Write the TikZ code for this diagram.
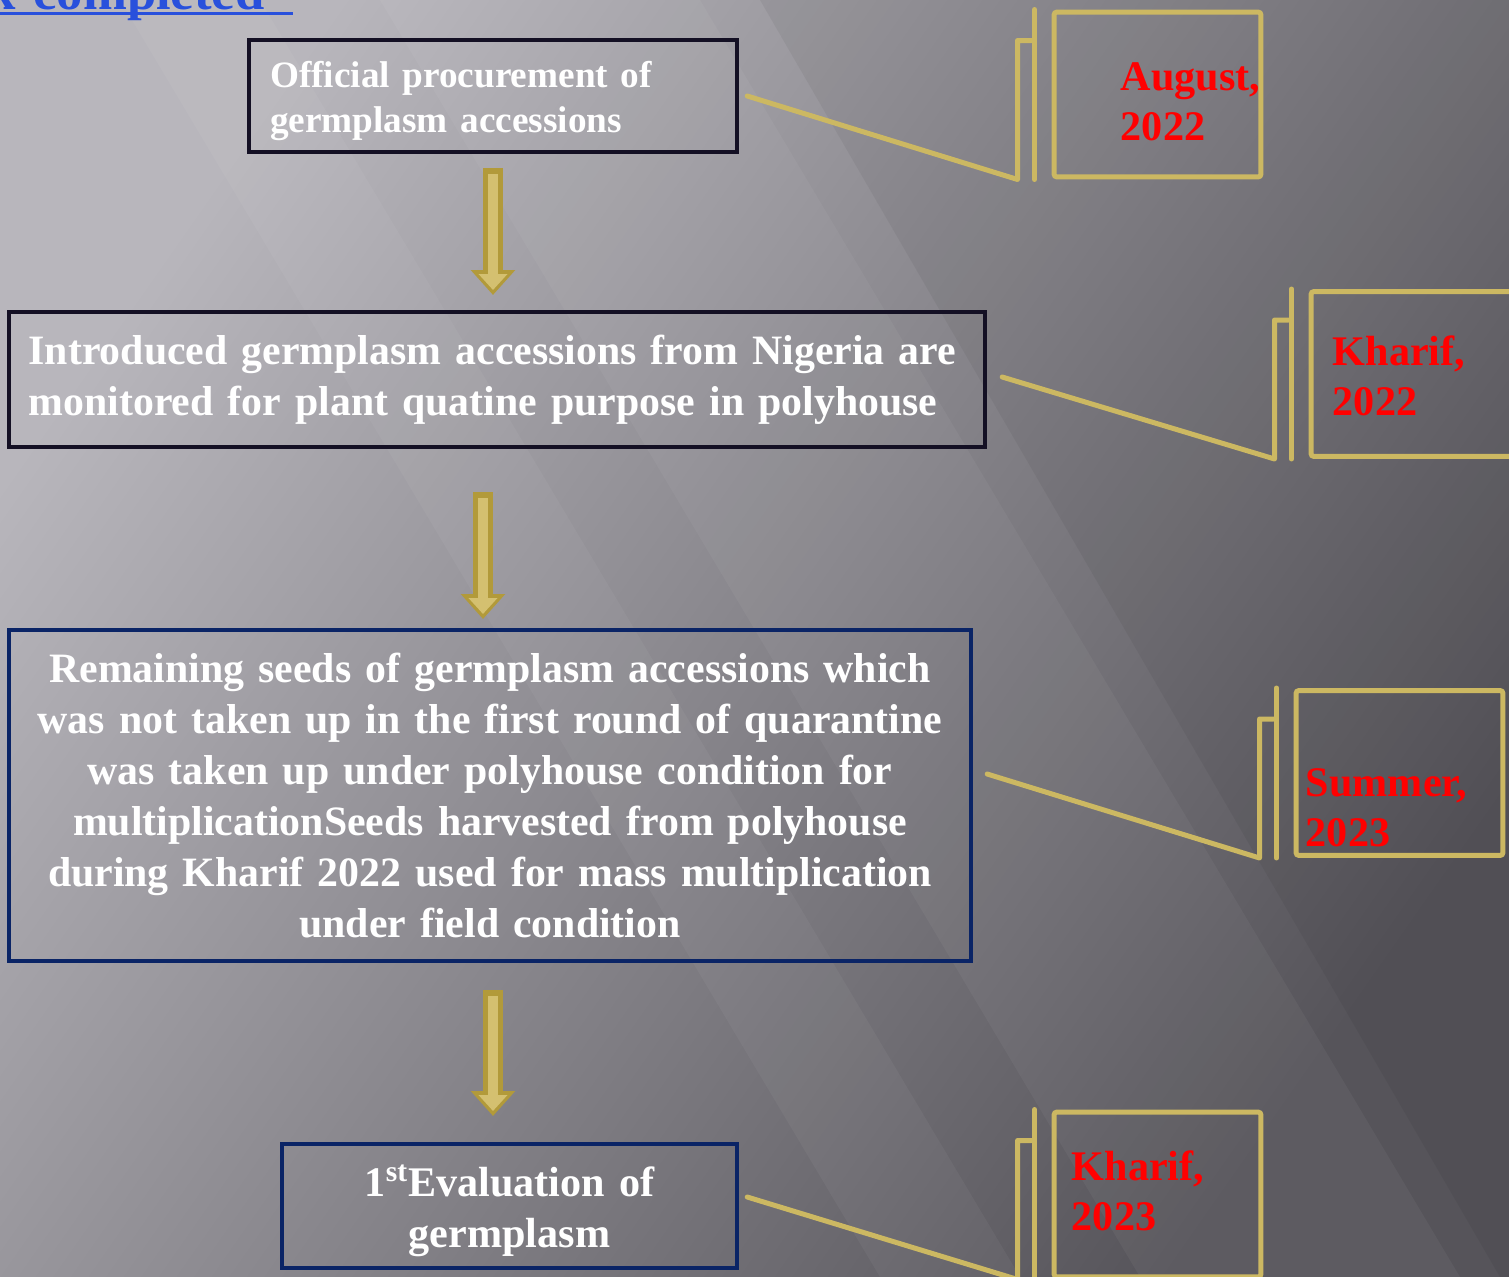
\documentclass[tikz,border=0pt]{standalone}
\usepackage{fontspec}
\setmainfont{Liberation Serif}[WordSpace=1.35]
\usetikzlibrary{arrows.meta,positioning}

\definecolor{bglight}{RGB}{184,182,188}
\definecolor{bgmid}{RGB}{132,130,137}
\definecolor{bgdark}{RGB}{86,84,90}
\definecolor{goldline}{RGB}{204,184,98}
\definecolor{golddark}{RGB}{178,154,58}
\definecolor{goldlight}{RGB}{212,192,112}
\definecolor{inkbox}{RGB}{20,16,36}
\definecolor{navybox}{RGB}{10,36,102}
\definecolor{linkblue}{RGB}{40,80,220}
\definecolor{datered}{RGB}{255,0,0}

\tikzset{
  stepbox/.style={draw=inkbox, line width=0.09cm, text=white, inner ysep=0pt,
    font=\bfseries\fontsize{23.8}{29}\selectfont},
  navystep/.style={stepbox, draw=navybox},
  datebox/.style={draw=goldline, line width=0.1cm, rounded corners=0.06cm,
    minimum width=4.14cm, minimum height=3.3cm, inner sep=0pt},
  datetext/.style={text=datered, align=flush left, inner sep=0pt,
    font=\bfseries\fontsize{24}{28.5}\selectfont},
  callout/.style={draw=goldline, line width=0.1cm, line cap=round, line join=round},
  flowout/.style={draw=golddark, line width=0.4cm, -{Triangle[width=0.86cm,length=0.5cm]}},
  flowin/.style={draw=goldlight, line width=0.2cm, -{Triangle[width=0.56cm,length=0.32cm]}},
  streak/.style={fill=white, fill opacity=0.045, draw=none}
}

\begin{document}
\begin{tikzpicture}[x=0.02cm,y=-0.02cm]
  \useasboundingbox (0,0) rectangle (1509,1277);
  \shade[top color=bglight, middle color=bgmid, bottom color=bgdark, shading angle=55]
    (0,0) rectangle (1509,1277);
  \fill[streak] (380,0) -- (700,0) -- (1460,1277) -- (1140,1277) -- cycle;
  \fill[streak] (120,0) -- (260,0) -- (1020,1277) -- (880,1277) -- cycle;
  \fill[black, fill opacity=0.05] (760,0) -- (1509,0) -- (1509,1277) -- (1500,1277) -- cycle;

  \node[anchor=base east, inner sep=0pt, text=linkblue,
    font=\bfseries\fontsize{30}{36}\selectfont] (hdr) at (265,10) {k completed};
  \draw[linkblue, line width=0.06cm] (-5,13.5) -- (293,13.5);

  \node[stepbox, minimum width=9.76cm, minimum height=2.24cm, text width=8.92cm,
    inner xsep=0.42cm, align=flush left, font=\bfseries\fontsize{21.2}{25.6}\selectfont]
    (b1) at (493,96) {\rule{0pt}{0.95em}Official procurement of\\germplasm accessions};
  \node[stepbox, minimum width=19.52cm, minimum height=2.7cm, text width=18.74cm,
    inner xsep=0.39cm, align=flush left]
    (b2) at (497,379.5) {Introduced germplasm accessions from Nigeria are\\monitored for plant quatine purpose in polyhouse};
  \node[navystep, minimum width=19.24cm, minimum height=6.62cm, text width=18.8cm,
    inner xsep=0.22cm, align=flush center]
    (b3) at (490,795.5) {Remaining seeds of germplasm accessions which\\was not taken up in the first round of quarantine\\was taken up under polyhouse condition for\\multiplicationSeeds harvested from polyhouse\\during Kharif 2022 used for mass multiplication\\under field condition};
  \node[navystep, minimum width=9.1cm, minimum height=2.48cm, text width=8.8cm,
    inner xsep=0.15cm, align=flush center, font=\bfseries\fontsize{24}{29}\selectfont]
    (b4) at (509.5,1206) {\rule{0pt}{1.0em}1\textsuperscript{st}Evaluation of\\germplasm};

  \coordinate (a1s) at (493,168);
  \coordinate (a1e) at (493,295);
  \coordinate (a2s) at (483,492);
  \coordinate (a2e) at (483,619);
  \coordinate (a3s) at (493,990);
  \coordinate (a3e) at (493,1116);
  \draw[flowout] (a1s) -- (a1e);
  \draw[flowin] ([yshift=-0.12cm]a1s) -- ([yshift=0.1cm]a1e);
  \draw[flowout] (a2s) -- (a2e);
  \draw[flowin] ([yshift=-0.12cm]a2s) -- ([yshift=0.1cm]a2e);
  \draw[flowout] (a3s) -- (a3e);
  \draw[flowin] ([yshift=-0.12cm]a3s) -- ([yshift=0.1cm]a3e);

  \node[datebox] (d1) at (1157.5,94.5) {};
  \node[datebox] (d2) at (1414.5,374) {};
  \node[datebox] (d3) at (1399.5,773) {};
  \node[datebox] (d4) at (1157.5,1194.5) {};
  \node[datetext, right=1.38cm of d1.west, yshift=-0.15cm] (t1) {August,\\2022};
  \node[datetext, right=0.48cm of d2.west, yshift=-0.04cm] (t2) {Kharif,\\2022};
  \node[datetext, right=0.24cm of d3.west, yshift=-0.7cm] (t3) {Summer,\\2023};
  \node[datetext, right=0.4cm of d4.west, yshift=0.07cm] (t4) {Kharif,\\2023};

  \draw[callout] ([xshift=0.16cm]b1.east) -- ([xshift=-0.68cm]d1.south west)
    -- ([xshift=-0.68cm,yshift=-0.62cm]d1.north west) -- ++(0.28cm,0);
  \draw[callout] ([xshift=-0.34cm]d1.north west) -- ([xshift=-0.34cm]d1.south west);
  \draw[callout] ([xshift=0.3cm,yshift=0.05cm]b2.east) -- ([xshift=-0.68cm]d2.south west)
    -- ([xshift=-0.68cm,yshift=-0.62cm]d2.north west) -- ++(0.28cm,0);
  \draw[callout] ([xshift=-0.34cm]d2.north west) -- ([xshift=-0.34cm]d2.south west);
  \draw[callout] ([xshift=0.28cm,yshift=0.43cm]b3.east) -- ([xshift=-0.68cm]d3.south west)
    -- ([xshift=-0.68cm,yshift=-0.62cm]d3.north west) -- ++(0.28cm,0);
  \draw[callout] ([xshift=-0.34cm]d3.north west) -- ([xshift=-0.34cm]d3.south west);
  \draw[callout] ([xshift=0.16cm,yshift=0.18cm]b4.east) -- ([xshift=-0.68cm]d4.south west)
    -- ([xshift=-0.68cm,yshift=-0.62cm]d4.north west) -- ++(0.28cm,0);
  \draw[callout] ([xshift=-0.34cm]d4.north west) -- ([xshift=-0.34cm]d4.south west);
\end{tikzpicture}
\end{document}
